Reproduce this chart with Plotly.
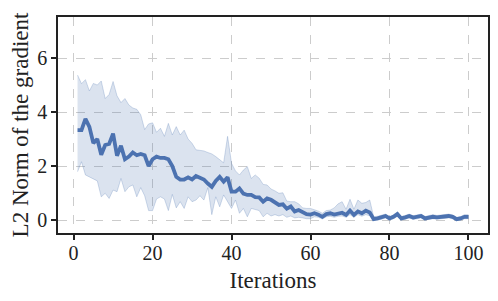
import plotly.graph_objects as go

iterations = list(range(1, 101))

mean_norm = [3.33, 3.33, 3.75, 3.45, 2.85, 3.0, 2.42, 2.78, 2.82, 3.2,
             2.38, 2.75, 2.25, 2.35, 2.5, 2.4, 2.45, 2.4, 2.0, 2.25,
             2.35, 2.3, 2.3, 2.25, 2.0, 1.6, 1.5, 1.5, 1.58, 1.5,
             1.63, 1.55, 1.5, 1.35, 1.23, 1.45, 1.6, 1.42, 1.58, 1.05,
             1.05, 1.17, 0.98, 0.93, 0.93, 0.85, 0.84, 0.68, 0.8, 0.75,
             0.65, 0.56, 0.58, 0.42, 0.5, 0.32, 0.37, 0.3, 0.22, 0.2,
             0.25, 0.2, 0.12, 0.22, 0.25, 0.2, 0.25, 0.27, 0.19, 0.35,
             0.19, 0.32, 0.25, 0.35, 0.28, 0.03, 0.06, 0.1, 0.15, 0.06,
             0.12, 0.22, 0.06, 0.1, 0.15, 0.09, 0.12, 0.15, 0.06, 0.1,
             0.12, 0.1, 0.12, 0.14, 0.15, 0.12, 0.03, 0.06, 0.12, 0.12]

upper_norm = [5.37, 5.05, 5.2, 4.78, 5.06, 5.0, 5.15, 4.5, 4.65, 5.13,
              4.6, 4.35, 4.5, 4.26, 4.15, 4.1, 3.9, 3.35, 3.56, 3.6,
              3.25, 3.4, 3.1, 3.58, 3.15, 3.46, 3.15, 3.33, 3.0, 2.84,
              2.6, 2.57, 2.56, 2.5, 2.45, 2.35, 2.25, 2.12, 3.1, 2.1,
              1.82, 1.67, 1.85, 1.98, 1.54, 1.67, 1.55, 1.32, 1.3, 1.15,
              1.08, 0.99, 1.01, 0.7, 0.68, 0.68, 0.6, 0.45, 0.43, 0.43,
              0.38, 0.33, 0.25, 0.35, 0.37, 0.45, 0.6, 0.68, 0.4, 0.77,
              0.4, 0.74, 0.62, 0.65, 0.74, 0.12, 0.14, 0.17, 0.22, 0.13,
              0.19, 0.3, 0.13, 0.17, 0.22, 0.16, 0.2, 0.22, 0.13, 0.17,
              0.2, 0.17, 0.19, 0.21, 0.22, 0.19, 0.1, 0.13, 0.2, 0.2]

lower_norm = [1.79, 2.16, 1.67, 1.6, 1.54, 1.45, 0.86, 0.99, 0.8, 1.11,
              1.05, 1.54, 1.05, 1.23, 1.3, 0.86, 1.2, 0.9, 0.35, 0.35,
              0.78, 0.86, 0.78, 0.35, 0.95, 0.45, 0.68, 0.43, 0.86, 0.68,
              0.74, 0.9, 0.74, 1.2, 0.2, 0.86, 0.49, 0.93, 0.68, 0.43,
              0.74, 0.25, 0.43, 0.12, 0.43, 0.4, 0.35, 0.12, 0.25, 0.15,
              0.2, 0.15, 0.2, 0.1, 0.15, 0.08, 0.1, 0.08, 0.05, 0.05,
              0.12, 0.1, 0.04, 0.12, 0.14, 0.1, 0.14, 0.15, 0.1, 0.2,
              0.1, 0.2, 0.14, 0.2, 0.16, 0.0, 0.0, 0.03, 0.08, 0.0,
              0.05, 0.14, 0.0, 0.03, 0.08, 0.02, 0.05, 0.08, 0.0, 0.03,
              0.05, 0.03, 0.05, 0.07, 0.08, 0.05, 0.0, 0.0, 0.05, 0.05]

x_ticks = [0, 20, 40, 60, 80, 100]
y_ticks = [0, 2, 4, 6]

blue = "#4C72B0"
font_family = "Liberation Serif"

fig = go.Figure()
fig.add_trace(go.Scatter(x=iterations, y=upper_norm, mode="lines",
                         line=dict(width=1, color="rgba(76,114,176,0.25)"),
                         showlegend=False, hoverinfo="skip"))
fig.add_trace(go.Scatter(x=iterations, y=lower_norm, mode="lines",
                         line=dict(width=1, color="rgba(76,114,176,0.25)"),
                         fill="tonexty", fillcolor="rgba(76,114,176,0.2)",
                         showlegend=False, hoverinfo="skip"))
fig.add_trace(go.Scatter(x=iterations, y=mean_norm, mode="lines",
                         line=dict(width=3.8, color=blue),
                         showlegend=False))

axis_common = dict(
    showline=True, linecolor="#222222", linewidth=1.5, mirror=True,
    ticks="outside", ticklen=5, tickwidth=1.5, tickcolor="#222222",
    showgrid=True, gridcolor="#cccccc", gridwidth=1, griddash="dash",
    zeroline=False, automargin=False,
    tickfont=dict(family=font_family, size=20, color="#222222"),
)

fig.update_layout(
    width=498, height=301,
    margin=dict(l=58, r=10, t=17, b=68),
    paper_bgcolor="white", plot_bgcolor="white",
    font=dict(family=font_family, color="#222222"),
    xaxis=dict(range=[-3.95, 104.95], tickvals=x_ticks, ticklabelstandoff=-4,
               title=dict(text="Iterations", font=dict(family=font_family, size=23), standoff=9),
               **axis_common),
    yaxis=dict(range=[-0.48, 7.52], tickvals=y_ticks,
               title=dict(text="L2 Norm of the gradient", font=dict(family=font_family, size=23), standoff=2),
               **axis_common),
)

fig.write_html("out.html", config={"displayModeBar": False},
               post_script="document.body.style.margin='0';")
